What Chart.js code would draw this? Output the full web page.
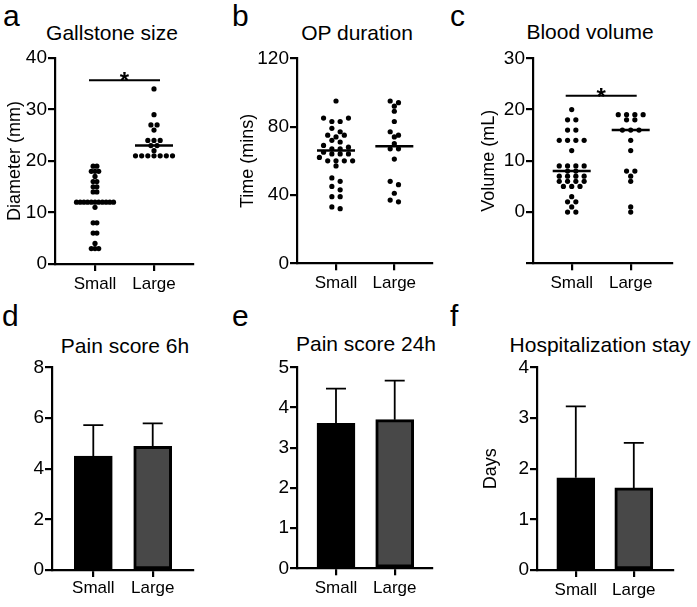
<!DOCTYPE html>
<html>
<head>
<meta charset="utf-8">
<script src="https://cdn.jsdelivr.net/npm/chart.js@4.4.1/dist/chart.umd.min.js"></script>
<style>
body{margin:0;background:#fff;width:697px;height:607px;position:relative;overflow:hidden;font-family:"Liberation Sans",Arial,sans-serif;color:#000}
canvas{position:absolute}
.lt{position:absolute;font-size:30px;line-height:30px}
.tt{position:absolute;font-size:21px;line-height:21px;white-space:nowrap;transform:translateX(-50%)}
</style>
</head>
<body>
<div class="lt" style="left:3px;top:1px">a</div>
<div class="lt" style="left:232px;top:1px">b</div>
<div class="lt" style="left:450px;top:1px">c</div>
<div class="lt" style="left:2px;top:301px">d</div>
<div class="lt" style="left:232px;top:301px">e</div>
<div class="lt" style="left:450px;top:301px">f</div>

<div class="tt" style="left:112px;top:22px">Gallstone size</div>
<div class="tt" style="left:357px;top:22px">OP duration</div>
<div class="tt" style="left:590px;top:21px">Blood volume</div>
<div class="tt" style="left:125px;top:335px">Pain score 6h</div>
<div class="tt" style="left:366px;top:333px">Pain score 24h</div>
<div class="tt" style="left:600px;top:334px">Hospitalization stay</div>

<canvas id="ca" width="215" height="260" style="left:0;top:40px"></canvas>
<canvas id="cb" width="215" height="260" style="left:230px;top:40px"></canvas>
<canvas id="cc" width="237" height="260" style="left:460px;top:40px"></canvas>
<canvas id="cd" width="215" height="252" style="left:0;top:355px"></canvas>
<canvas id="ce" width="215" height="252" style="left:230px;top:355px"></canvas>
<canvas id="cf" width="237" height="252" style="left:460px;top:355px"></canvas>

<script>
const groups = ['Small', 'Large'];

// a - gallstone size (mm)
const sizeSmall = [19,19,18,18,18,17,16,16,15,15,14,14,12,12,12,12,12,12,12,12,12,12,12,11,8,8,6,6,4,3,3,3];
const sizeLarge = [34,29,27,27,26,24,24,24,23,23,22,21,21,21,21,21,21,21];
const sizeMedian = [12, 23];
const sizeSig = [0, 1, 35.7];
const sizeTicks = [0, 10, 20, 30, 40];

// b - OP duration (mins)
const opSmall = [95,85,85,83,83,79,77,75,75,74,72,71,69,68,67,67,65,64,64,64,62,60,60,60,60,57,50,48,45,43,39,39,33,32];
const opLarge = [95,94,92,89,83,77,75,74,70,67,67,61,48,46,41,37,36];
const opMedian = [66, 68.5];
const opTicks = [0, 40, 80, 120];

// c - blood volume (mL)
const bloodSmall = [20,18,18,16,16,14,14,14,14,12,9,9,9,9,8,8,7,7,7,7,6,6,6,6,5,5,5,3,2,2,1,0,0];
const bloodLarge = [19,19,19,19,18,18,16,16,16,14,12,8,8,7,6,1,0];
const bloodMedian = [8, 16];
const bloodSig = [0, 1, 22.7];
const bloodTicks = [-10, 0, 10, 20, 30];

// d, e, f - mean and SD
const pain6Mean = [4.5, 4.88];
const pain6Sd = [1.22, 0.91];
const pain6Ticks = [0, 2, 4, 6, 8];

const pain24Mean = [3.61, 3.70];
const pain24Sd = [0.86, 0.97];
const pain24Ticks = [0, 1, 2, 3, 4, 5];

const stayMean = [1.82, 1.62];
const staySd = [1.41, 0.89];
const stayTicks = [0, 1, 2, 3, 4];

const barFill = ['#000000', '#484848'];
const barBorder = [2, 3];

const FAM = '"Liberation Sans", Arial, sans-serif';
Chart.defaults.color = '#000';
Chart.defaults.font.family = FAM;

const marks = {
  id: 'marks',
  afterDatasetsDraw(chart, args, o) {
    const {ctx, scales: {x, y}} = chart;
    ctx.save();
    ctx.strokeStyle = '#000';
    ctx.fillStyle = '#000';
    if (o.medians) {
      ctx.lineWidth = 2.5;
      o.medians.forEach((m, i) => {
        const px = x.getPixelForValue(i), py = y.getPixelForValue(m);
        ctx.beginPath(); ctx.moveTo(px - 19, py); ctx.lineTo(px + 19, py); ctx.stroke();
      });
    }
    if (o.mean) {
      ctx.lineWidth = 1.8;
      o.mean.forEach((m, i) => {
        const px = x.getPixelForValue(i), p0 = y.getPixelForValue(m), p1 = y.getPixelForValue(m + o.sd[i]);
        ctx.beginPath(); ctx.moveTo(px, p0); ctx.lineTo(px, p1);
        ctx.moveTo(px - 10, p1); ctx.lineTo(px + 10, p1); ctx.stroke();
      });
    }
    if (o.sig) {
      const x0 = x.getPixelForValue(o.sig[0]) - 6, x1 = x.getPixelForValue(o.sig[1]) + 6;
      const py = y.getPixelForValue(o.sig[2]);
      ctx.lineWidth = 2;
      ctx.beginPath(); ctx.moveTo(x0, py); ctx.lineTo(x1, py); ctx.stroke();
      ctx.font = 'bold 24px ' + FAM;
      ctx.textAlign = 'center';
      ctx.textBaseline = 'alphabetic';
      ctx.fillText('*', (x0 + x1) / 2, py + 9);
    }
    ctx.restore();
  }
};

function axisLines() {
  return {
    grid: {display: true, drawOnChartArea: false, drawTicks: true, tickLength: 7, tickWidth: 2.2, lineWidth: 2.2, color: '#000', tickColor: '#000', offset: false},
    border: {display: true, color: '#000', width: 2.2}
  };
}

function options(o) {
  return {
    responsive: false,
    animation: false,
    events: [],
    layout: {autoPadding: false, padding: {left: o.pl, top: o.pt, right: o.pr, bottom: 0}},
    plugins: {legend: {display: false}, tooltip: {enabled: false}, marks: o.marks},
    scales: {
      x: Object.assign({
        type: 'linear', min: o.xmin, max: o.xmax, offset: false,
        afterBuildTicks: s => { s.ticks = groups.map((g, i) => ({value: i})); },
        afterFit: s => { s.height = o.xh; },
        ticks: {callback: v => groups[v], font: {size: 17}, color: '#000', padding: o.xpad, maxRotation: 0, autoSkip: false}
      }, axisLines()),
      y: Object.assign({
        type: 'linear', min: o.yticks[0], max: o.yticks[o.yticks.length - 1],
        afterBuildTicks: s => { s.ticks = o.yticks.map(v => ({value: v})); },
        afterFit: s => { s.width = o.yw; },
        ticks: {callback: v => (v < 0 ? '' : String(v)), font: {size: 19}, color: '#000', padding: 1},
        title: o.ytitle ? {display: true, text: o.ytitle, font: {size: 18}, color: '#000', padding: {top: 4, bottom: 0}} : {display: false}
      }, axisLines())
    }
  };
}

// spread dots sideways: values close in pixel height share a row
function swarm(values, yPx) {
  const binH = 3.6, maxStep = 8.3, maxW = 37;
  const order = values.map((v, i) => i).sort((a, b) => values[b] - values[a]);
  const bins = [];
  let cur = null;
  for (const i of order) {
    const py = yPx(values[i]);
    if (!cur || py - cur.py0 >= binH) { cur = {py0: py, idx: []}; bins.push(cur); }
    cur.idx.push(i);
  }
  const widest = Math.max(...bins.map(b => b.idx.length));
  const step = widest > 1 ? Math.min(maxStep, maxW / (widest - 1)) : maxStep;
  const dx = new Array(values.length).fill(0);
  for (const b of bins) {
    const n = b.idx.length;
    const slots = [];
    for (let k = 0; k < n; k++) slots.push((k - (n - 1) / 2) * step);
    slots.sort((p, q) => Math.abs(q) - Math.abs(p));
    b.idx.forEach((i, k) => { dx[i] = slots[k]; });
  }
  return dx;
}

function dotChart(id, series, o) {
  const ch = new Chart(document.getElementById(id), {
    type: 'scatter',
    data: {datasets: series.map((vals, g) => ({
      data: vals.map(v => ({x: g, y: v})),
      pointRadius: 2.6, pointBackgroundColor: '#000', pointBorderWidth: 0, pointBorderColor: '#000'
    }))},
    options: options(o),
    plugins: [marks]
  });
  const unit = ch.scales.x.getPixelForValue(1) - ch.scales.x.getPixelForValue(0);
  series.forEach((vals, g) => {
    const dx = swarm(vals, v => ch.scales.y.getPixelForValue(v));
    ch.data.datasets[g].data = vals.map((v, i) => ({x: g + dx[i] / unit, y: v}));
  });
  ch.update('none');
}

function barChart(id, mean, sd, o) {
  o.marks = {mean: mean, sd: sd};
  new Chart(document.getElementById(id), {
    type: 'bar',
    data: {datasets: [{
      data: mean.map((m, i) => ({x: i, y: m})),
      backgroundColor: barFill, borderColor: '#000', borderWidth: barBorder,
      borderSkipped: false, barThickness: 38
    }]},
    options: options(o),
    plugins: [marks]
  });
}

dotChart('ca', [sizeSmall, sizeLarge], {pl: 0, pt: 18, pr: 22, yw: 55, xh: 36, xpad: 3,
  xmin: -0.678, xmax: 1.661, yticks: sizeTicks, ytitle: 'Diameter (mm)',
  marks: {medians: sizeMedian, sig: sizeSig}});

dotChart('cb', [opSmall, opLarge], {pl: 3, pt: 18.3, pr: 13, yw: 64, xh: 36.7, xpad: 3,
  xmin: -0.669, xmax: 1.646, yticks: opTicks, ytitle: 'Time (mins)',
  marks: {medians: opMedian}});

dotChart('cc', [bloodSmall, bloodLarge], {pl: 14, pt: 18.3, pr: 25, yw: 59, xh: 36.7, xpad: 3,
  xmin: -0.656, xmax: 1.7, yticks: bloodTicks, ytitle: 'Volume (mL)',
  marks: {medians: bloodMedian, sig: bloodSig}});

barChart('cd', pain6Mean, pain6Sd, {pl: 1, pt: 10, pr: 22, yw: 51, xh: 37, xpad: 1,
  xmin: -0.695, xmax: 1.678, yticks: pain6Ticks});

barChart('ce', pain24Mean, pain24Sd, {pl: 1, pt: 11.7, pr: 13, yw: 66, xh: 38.7, xpad: 3,
  xmin: -0.664, xmax: 1.635, yticks: pain24Ticks});

barChart('cf', stayMean, staySd, {pl: 16, pt: 11.7, pr: 24, yw: 61, xh: 37, xpad: 3,
  xmin: -0.669, xmax: 1.676, yticks: stayTicks, ytitle: 'Days'});
</script>
</body>
</html>
